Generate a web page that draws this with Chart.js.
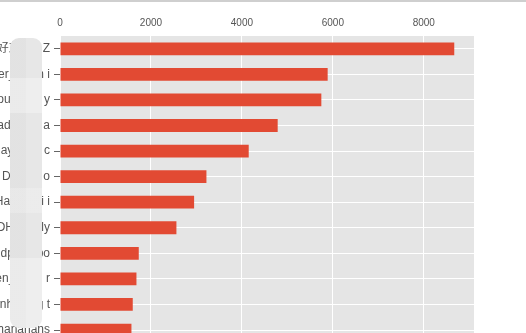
<!DOCTYPE html>
<html>
<head>
<meta charset="utf-8">
<script src="https://cdn.jsdelivr.net/npm/chart.js@4.4.1/dist/chart.umd.min.js"></script>
<style>
  html, body { margin: 0; padding: 0; background: #fff; overflow: hidden; width: 526px; height: 333px; }
  #wrap { position: relative; width: 526px; height: 333px; overflow: hidden; }
  #chart { position: absolute; left: 0; top: 0; }
  #topline { position: absolute; left: 0; top: 0; width: 526px; height: 2px; background: #cfcfcf; }
  #mask {
    position: absolute; left: 10px; top: 38px; width: 32px; height: 290px;
    border-radius: 9px; background: #e7e7e7;
    background-image:
      linear-gradient(to bottom, rgba(255,255,255,0) 0, rgba(255,255,255,0) 40px, rgba(255,255,255,.3) 40px, rgba(255,255,255,.3) 75px, rgba(255,255,255,0) 75px,
        rgba(255,255,255,0) 150px, rgba(255,255,255,.2) 150px, rgba(255,255,255,.2) 175px, rgba(255,255,255,0) 175px,
        rgba(255,255,255,0) 220px, rgba(255,255,255,.3) 220px),
      linear-gradient(to right, rgba(0,0,0,.02) 0, rgba(0,0,0,.02) 16px, rgba(0,0,0,0) 16px);
    filter: blur(0.6px);
  }
</style>
</head>
<body>
<div id="wrap">
  <canvas id="chart" width="526" height="354"></canvas>
  <div id="mask"></div>
  <div id="topline"></div>
</div>
<script>
// Account names, top to bottom
const categories = [
  "好友圈1 Z", "Peter_Chen i", "Your_Tao y", "Nadia_La a", "Ray_Zhu c", "Dan_Li o",
  "Han_Wei i", "JOH_Emily", "dp_Liubo", "Wen_Zhou r", "Minh_Ying t", "hananans"
];
// Counts per account
const counts = [8670, 5886, 5747, 4787, 4150, 3220, 2949, 2560, 1732, 1681, 1600, 1571];
// Value axis range and tick labels
const valueMax = 9104;
const tickValues = [0, 2000, 4000, 6000, 8000];

const plotBackground = {
  id: 'plotBackground',
  beforeDraw(chart) {
    const { ctx, chartArea: a } = chart;
    ctx.save();
    ctx.fillStyle = '#e5e5e5';
    ctx.fillRect(a.left, a.top, a.right - a.left, a.bottom - a.top);
    ctx.restore();
  }
};

new Chart(document.getElementById('chart'), {
  type: 'bar',
  data: {
    labels: categories,
    datasets: [{
      data: counts,
      backgroundColor: '#e24a33',
      borderWidth: 0,
      barPercentage: 0.5,
      categoryPercentage: 1.0
    }]
  },
  options: {
    indexAxis: 'y',
    responsive: false,
    animation: false,
    devicePixelRatio: 1,
    layout: { padding: { top: 10, right: 52, bottom: 4, left: 0 } },
    plugins: { legend: { display: false }, tooltip: { enabled: false } },
    scales: {
      x: {
        position: 'top',
        min: 0,
        max: valueMax,
        afterBuildTicks(scale) {
          scale.ticks = tickValues.map(v => ({ value: v }));
        },
        ticks: {
          color: '#555',
          padding: 7,
          autoSkip: false,
          callback: v => String(v),
          font: { family: 'Liberation Sans, Arial, sans-serif', size: 10 },
          maxRotation: 0
        },
        grid: { color: '#ffffff', lineWidth: 1, drawTicks: false },
        border: { display: false }
      },
      y: {
        afterFit(scale) { scale.width = 60; },
        ticks: {
          color: '#555',
          padding: 4,
          autoSkip: false,
          font: { family: 'Liberation Sans, "Noto Sans CJK SC", Arial, sans-serif', size: 12 }
        },
        grid: {
          color: '#ffffff',
          lineWidth: 1,
          offset: false,
          drawTicks: true,
          tickLength: 6,
          tickColor: '#666'
        },
        border: { display: false }
      }
    }
  },
  plugins: [plotBackground]
});
</script>
</body>
</html>
